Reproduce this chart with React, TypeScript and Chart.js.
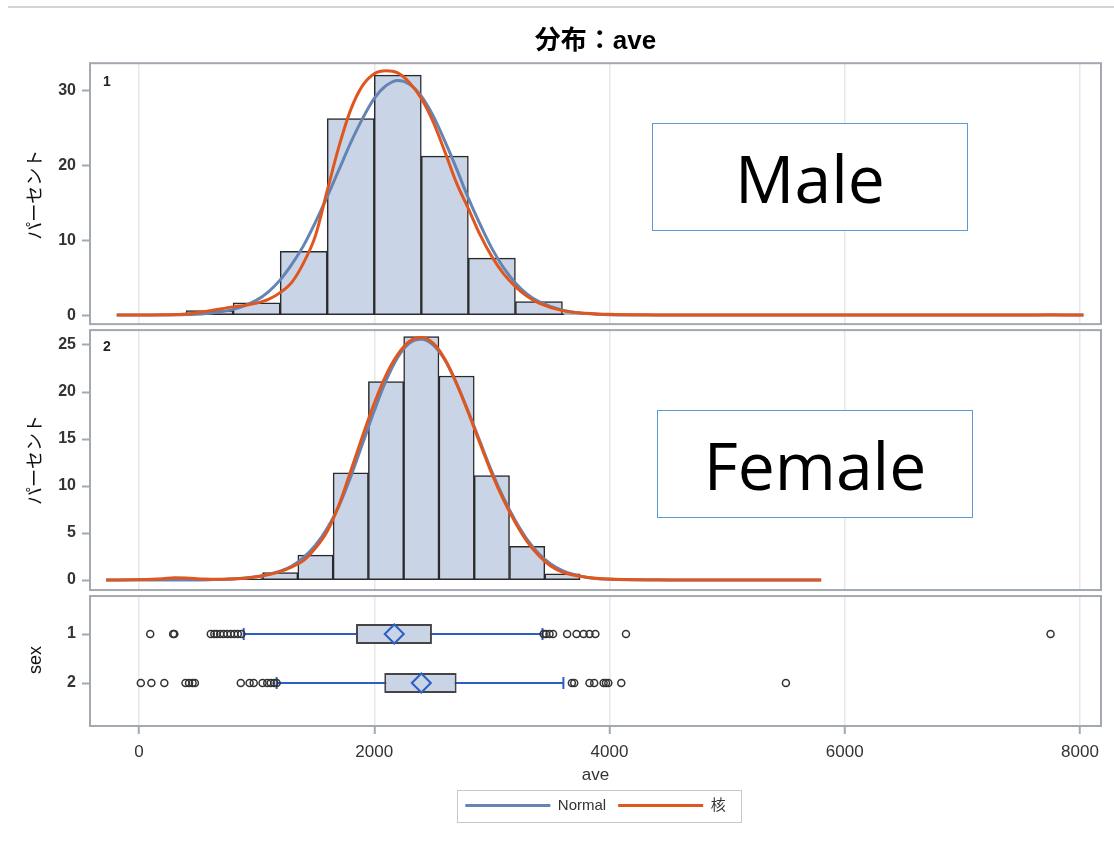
import React, { useEffect, useRef } from 'react';
import { Chart, registerables } from 'chart.js';

Chart.register(...registerables);

const FONT = "'Liberation Sans', 'Noto Sans CJK JP', sans-serif";

// ---- data ----
const xTicks = [0, 2000, 4000, 6000, 8000];
const maleTicks = [0, 10, 20, 30];
const femaleTicks = [0, 5, 10, 15, 20, 25];
const sexGroups = [1, 2];
const panelLabels = ['1', '2'];

const maleBinCenters = [600, 1000, 1400, 1800, 2200, 2600, 3000, 3400, 3800];
const malePercents = [0.6, 1.65, 8.5, 26.2, 32.0, 21.2, 7.6, 1.8, 0.2];
const femaleBinCenters = [900, 1200, 1500, 1800, 2100, 2400, 2700, 3000, 3300, 3600];
const femalePercents = [0.25, 0.8, 2.65, 11.4, 21.1, 25.9, 21.7, 11.1, 3.6, 0.65];

const maleNormalX = [-190, 0, 200, 400, 600, 800, 1000, 1100, 1200, 1300, 1400, 1500, 1600, 1700, 1800, 1900, 2000, 2100, 2200, 2300, 2400, 2500, 2600, 2700, 2800, 2900, 3000, 3100, 3200, 3300, 3400, 3600, 3800, 4000, 4400, 8030];
const maleNormalY = [0, 0, 0.01, 0.07, 0.24, 0.76, 2.0, 3.1, 4.7, 6.8, 9.3, 12.4, 15.8, 19.4, 23.0, 26.2, 28.9, 30.6, 31.3, 30.8, 29.2, 26.6, 23.2, 19.5, 15.6, 12.1, 8.9, 6.3, 4.3, 2.8, 1.8, 0.65, 0.2, 0.05, 0, 0];
const maleKernelX = [-190, 0, 200, 400, 600, 800, 900, 1000, 1100, 1200, 1300, 1400, 1500, 1600, 1700, 1800, 1900, 2000, 2100, 2200, 2300, 2400, 2500, 2600, 2700, 2800, 2900, 3000, 3100, 3200, 3300, 3400, 3600, 3800, 4000, 4400, 5000, 7400, 7750, 8030];
const maleKernelY = [0, 0.02, 0.05, 0.15, 0.6, 1.1, 1.3, 1.6, 2.1, 3.0, 4.4, 7.0, 10.6, 16.6, 22.5, 27.4, 30.6, 32.2, 32.6, 32.3, 31.0, 28.9, 25.8, 21.8, 17.6, 14.2, 10.7, 7.8, 5.5, 3.8, 2.5, 1.6, 0.6, 0.25, 0.1, 0.03, 0, 0, 0.06, 0];

const femaleNormalX = [-280, 0, 400, 600, 800, 1000, 1200, 1300, 1400, 1500, 1600, 1700, 1800, 1900, 2000, 2100, 2200, 2300, 2400, 2500, 2600, 2700, 2800, 2900, 3000, 3100, 3200, 3300, 3400, 3500, 3600, 3800, 4000, 4400, 5800];
const femaleNormalY = [0, 0, 0.01, 0.04, 0.12, 0.35, 0.95, 1.5, 2.4, 3.7, 5.5, 7.9, 11.0, 14.5, 18.0, 21.2, 23.7, 25.2, 25.6, 25.0, 23.4, 20.9, 17.9, 14.7, 11.5, 8.7, 6.3, 4.3, 2.8, 1.7, 1.0, 0.3, 0.08, 0.01, 0];
const femaleKernelX = [-280, 0, 200, 300, 400, 550, 700, 900, 1050, 1200, 1300, 1400, 1500, 1600, 1700, 1800, 1900, 2000, 2100, 2200, 2300, 2400, 2500, 2600, 2700, 2800, 2900, 3000, 3100, 3200, 3300, 3400, 3500, 3600, 3800, 4000, 4500, 5000, 5500, 5800];
const femaleKernelY = [0, 0.05, 0.15, 0.25, 0.22, 0.1, 0.08, 0.2, 0.45, 0.9, 1.4, 2.1, 3.4, 5.2, 8.0, 11.6, 15.3, 18.8, 21.8, 24.0, 25.4, 25.8, 25.2, 23.5, 20.9, 17.8, 14.5, 11.3, 8.5, 6.1, 4.1, 2.6, 1.5, 0.85, 0.3, 0.1, 0.02, 0.01, 0.02, 0];

const boxQ1 = [1845, 2085];
const boxQ3 = [2490, 2700];
const boxMedian = [2170, 2400];
const boxMean = [2170, 2400];
const whiskerLow = [890, 1170];
const whiskerHigh = [3430, 3608];
const outliers1 = [95, 290, 300, 610, 640, 660, 690, 720, 750, 780, 810, 840, 870, 3440, 3460, 3490, 3520, 3640, 3720, 3780, 3830, 3880, 4140, 7750];
const outliers2 = [15, 105, 215, 395, 425, 455, 475, 865, 940, 975, 1050, 1090, 1120, 1150, 1170, 3680, 3700, 3830, 3870, 3950, 3970, 3990, 4100, 5500];

// ---- styling ----
const X_MIN = -417;
const X_MAX = 8179;
const HIST_FILL = '#C9D5E6';
const NORMAL_BLUE = '#6484B4';
const KERNEL_ORANGE = '#E0561F';
const BOX_BLUE = '#2E5DC4';
const FRAME = '#A3A9B0';

const pts = (xs: number[], ys: number[]) => xs.map((x, i) => ({ x, y: ys[i] }));
const setTicks = (vals: number[]) => (s: any) => {
  s.ticks = vals.map((v) => ({ value: v }));
};

const curve = (label: string, xs: number[], ys: number[], color: string, xid: string, yid: string, order: number) => ({
  type: 'line' as const,
  label,
  data: pts(xs, ys),
  xAxisID: xid,
  yAxisID: yid,
  borderColor: color,
  backgroundColor: color,
  borderWidth: 3,
  pointRadius: 0,
  pointBorderWidth: 3,
  cubicInterpolationMode: 'monotone' as const,
  fill: false,
  order,
});

const hist = (label: string, xs: number[], ys: number[], xid: string, yid: string) => ({
  type: 'bar' as const,
  label,
  data: pts(xs, ys),
  xAxisID: xid,
  yAxisID: yid,
  backgroundColor: HIST_FILL,
  borderColor: '#2a2a2a',
  borderWidth: 1.5,
  borderSkipped: false,
  grouped: false,
  barPercentage: 1,
  categoryPercentage: 1,
  order: 10,
});

const datasets: any[] = [
  hist('hist1', maleBinCenters, malePercents, 'x1', 'y1'),
  hist('hist2', femaleBinCenters, femalePercents, 'x2', 'y2'),
  curve('Normal', maleNormalX, maleNormalY, NORMAL_BLUE, 'x1', 'y1', 5),
  curve('核', maleKernelX, maleKernelY, KERNEL_ORANGE, 'x1', 'y1', 4),
  curve('Normal', femaleNormalX, femaleNormalY, NORMAL_BLUE, 'x2', 'y2', 5),
  curve('核', femaleKernelX, femaleKernelY, KERNEL_ORANGE, 'x2', 'y2', 4),
  ...sexGroups.map((g, i) => ({
    type: 'line',
    label: 'whisker' + g,
    data: [{ x: whiskerLow[i], y: g }, { x: whiskerHigh[i], y: g }],
    xAxisID: 'x',
    yAxisID: 'y3',
    borderColor: BOX_BLUE,
    borderWidth: 2,
    pointRadius: 0,
    order: 9,
  })),
  {
    type: 'bar',
    label: 'box',
    indexAxis: 'y',
    data: sexGroups.map((g, i) => ({ y: g, x: [boxQ1[i], boxQ3[i]] })),
    xAxisID: 'x',
    yAxisID: 'y3',
    backgroundColor: HIST_FILL,
    borderColor: '#454545',
    borderWidth: 2,
    borderSkipped: false,
    grouped: false,
    barPercentage: 0.41,
    categoryPercentage: 1,
    order: 8,
  },
  {
    type: 'scatter',
    label: 'caps',
    data: sexGroups.flatMap((g, i) => [{ x: whiskerLow[i], y: g }, { x: whiskerHigh[i], y: g }]),
    xAxisID: 'x',
    yAxisID: 'y3',
    pointStyle: 'line',
    rotation: 90,
    radius: 6,
    borderColor: BOX_BLUE,
    borderWidth: 2,
    order: 7,
  },
  {
    type: 'scatter',
    label: 'median',
    data: sexGroups.map((g, i) => ({ x: boxMedian[i], y: g })),
    xAxisID: 'x',
    yAxisID: 'y3',
    pointStyle: 'line',
    rotation: 90,
    radius: 10,
    borderColor: '#1F4AA8',
    borderWidth: 2,
    order: 7,
  },
  {
    type: 'scatter',
    label: 'mean',
    data: sexGroups.map((g, i) => ({ x: boxMean[i], y: g })),
    xAxisID: 'x',
    yAxisID: 'y3',
    pointStyle: 'rectRot',
    radius: 9.5,
    borderColor: BOX_BLUE,
    backgroundColor: HIST_FILL,
    borderWidth: 2,
    order: 6,
  },
  {
    type: 'scatter',
    label: 'outliers',
    data: [...outliers1.map((x) => ({ x, y: sexGroups[0] })), ...outliers2.map((x) => ({ x, y: sexGroups[1] }))],
    xAxisID: 'x',
    yAxisID: 'y3',
    pointStyle: 'circle',
    radius: 3.5,
    borderColor: '#333',
    backgroundColor: 'rgba(0,0,0,0)',
    borderWidth: 1.5,
    order: 3,
  },
];

const LEGEND_IDS = [2, 3];

const decorPlugin = {
  id: 'decor',
  afterDraw(chart: any) {
    const ctx = chart.ctx;
    const ca = chart.chartArea;
    const ids = ['y1', 'y2', 'y3'];
    ctx.save();
    ids.forEach((id, i) => {
      const s = chart.scales[id];
      if (i < ids.length - 1) {
        ctx.fillStyle = '#fff';
        ctx.fillRect(ca.left - 2, s.bottom - 2, ca.right - ca.left + 4, 4);
      }
    });
    ctx.strokeStyle = FRAME;
    ctx.lineWidth = 2;
    ids.forEach((id, i) => {
      const s = chart.scales[id];
      const top = s.top + (i > 0 ? 2 : 0) + 1;
      const bottom = s.bottom - (i < ids.length - 1 ? 2 : 0) - 1;
      ctx.strokeRect(ca.left, top, ca.right - ca.left, bottom - top);
    });
    ctx.fillStyle = '#222';
    ctx.font = `bold 14px ${FONT}`;
    ctx.textAlign = 'left';
    ctx.textBaseline = 'middle';
    panelLabels.forEach((t, i) => {
      const s = chart.scales[ids[i]];
      ctx.fillText(t, ca.left + 13, s.top + 20);
    });
    const hb = chart.legend && chart.legend.legendHitBoxes;
    if (hb && hb.length) {
      const left = Math.min(...hb.map((h: any) => h.left)) - 8;
      const right = Math.max(...hb.map((h: any) => h.left + h.width)) + 16;
      const cy = hb[0].top + hb[0].height / 2;
      ctx.strokeStyle = '#C8C8C8';
      ctx.lineWidth = 1;
      ctx.strokeRect(Math.round(left) + 0.5, Math.round(cy - 16) + 0.5, Math.round(right - left), 32);
    }
    ctx.restore();
  },
};

const tickFont = { family: FONT, size: 17 };
const yTickFont = { family: FONT, size: 16, weight: 'bold' as const };
const yTitleFont = { family: FONT, size: 18 };

const yScale = (stackWeight: number, weight: number, min: number, max: number, ticks: number[], title: string, reverse = false) => ({
  type: 'linear',
  position: 'left',
  stack: 'panels',
  stackWeight,
  weight,
  min,
  max,
  reverse,
  offset: false,
  afterBuildTicks: setTicks(ticks),
  afterFit: (s: any) => {
    s.width = 90;
  },
  ticks: { font: yTickFont, color: '#333', padding: 6, callback: (v: any) => String(v) },
  grid: { offset: false, drawOnChartArea: false, drawTicks: true, tickLength: 8, tickColor: FRAME, tickWidth: 2 },
  border: { display: false },
  title: { display: true, text: title, font: yTitleFont, color: '#111', padding: { top: 25, bottom: 0 } },
});

const hiddenX = () => ({
  type: 'linear',
  display: false,
  offset: false,
  grid: { offset: false },
  min: X_MIN,
  max: X_MAX,
  afterBuildTicks: setTicks(xTicks),
});

export default function App() {
  const ref = useRef<HTMLCanvasElement>(null);
  useEffect(() => {
    if (!ref.current) return;
    const chart = new Chart(ref.current, {
      type: 'bar',
      data: { datasets },
      plugins: [decorPlugin],
      options: {
        responsive: false,
        animation: false,
        events: [],
        layout: { padding: { left: 0, right: 13, top: 0, bottom: 18 } },
        plugins: {
          tooltip: { enabled: false },
          title: {
            display: true,
            text: '分布：ave',
            fullSize: false,
            color: '#000',
            font: { family: FONT, size: 26, weight: 'bold' },
            padding: { top: 26, bottom: 5 },
          },
          legend: {
            position: 'bottom',
            fullSize: false,
            labels: {
              usePointStyle: true,
              pointStyle: 'line',
              pointStyleWidth: 85,
              padding: 12,
              color: '#333',
              font: { family: FONT, size: 15 },
              filter: (item: any) => LEGEND_IDS.includes(item.datasetIndex),
              sort: (a: any, b: any) => a.datasetIndex - b.datasetIndex,
            },
          },
        },
        scales: {
          x: {
            type: 'linear',
            position: 'bottom',
            min: X_MIN,
            max: X_MAX,
            offset: false,
            afterBuildTicks: setTicks(xTicks),
            afterFit: (s: any) => {
              s.height = 59;
            },
            ticks: { font: tickFont, color: '#333', padding: 8, maxRotation: 0, autoSkip: false, callback: (v: any) => String(v) },
            grid: { offset: false, color: '#E8E8E8', lineWidth: 1.5, tickColor: FRAME, tickWidth: 2, tickLength: 7 },
            border: { display: false },
            title: { display: true, text: 'ave', font: tickFont, color: '#333', padding: { top: 0, bottom: 0 } },
          },
          x1: hiddenX(),
          x2: hiddenX(),
          y1: yScale(265, 3, -1.6, 33.73, maleTicks, 'パーセント'),
          y2: yScale(266, 2, -1.38, 26.9, femaleTicks, 'パーセント'),
          y3: yScale(134, 1, 0.163, 2.898, sexGroups, 'sex', true),
        },
      } as any,
    });
    return () => chart.destroy();
  }, []);

  const overlay = (left: number, top: number): React.CSSProperties => ({
    position: 'absolute',
    left,
    top,
    width: 316,
    height: 108,
    boxSizing: 'border-box',
    border: '1.5px solid #5B9BD5',
    background: '#fff',
    display: 'flex',
    alignItems: 'center',
    justifyContent: 'center',
    fontFamily: "'Open Sans', 'Noto Sans', sans-serif",
    fontSize: 66,
    color: '#000',
  });

  return (
    <div>
      <div style={{ position: 'absolute', left: 8, top: 6, width: 1106, height: 2, background: '#D4D4D4' }} />
      <canvas ref={ref} width={1114} height={841} style={{ position: 'absolute', left: 0, top: 0, width: 1114, height: 841 }} />
      <div style={overlay(652, 123)}>Male</div>
      <div style={overlay(657, 410)}>Female</div>
    </div>
  );
}
